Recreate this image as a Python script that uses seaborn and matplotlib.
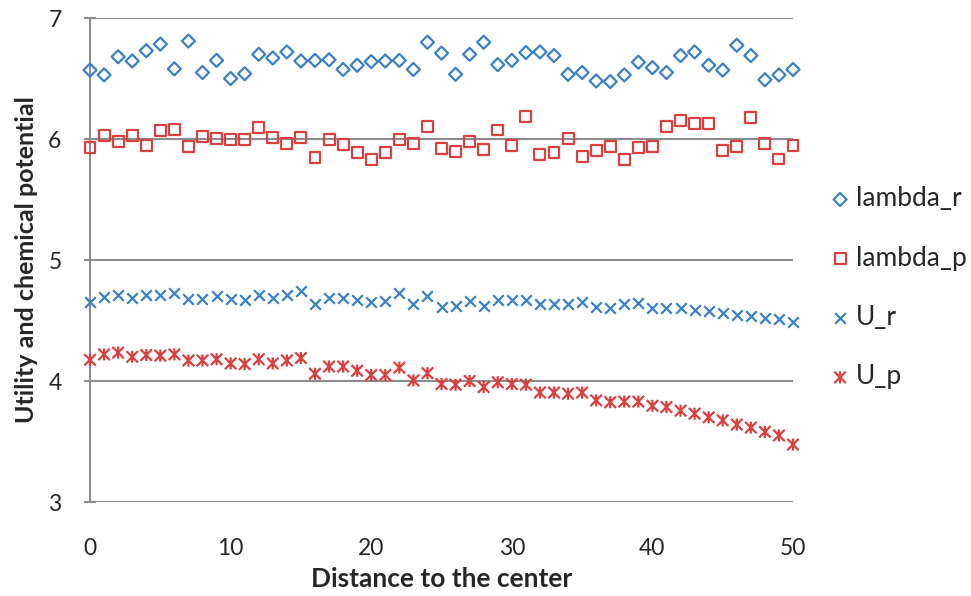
import matplotlib
matplotlib.use('Agg')
import matplotlib.pyplot as plt
import seaborn as sns
from matplotlib.path import Path

# distance to the center
distance = list(range(51))

lambda_r = [6.57, 6.53, 6.68, 6.645, 6.73, 6.785, 6.58, 6.81, 6.55, 6.65,
            6.50, 6.54, 6.70, 6.67, 6.72, 6.645, 6.65, 6.655, 6.575, 6.61,
            6.64, 6.645, 6.65, 6.575, 6.80, 6.71, 6.535, 6.70, 6.80, 6.615,
            6.65, 6.715, 6.72, 6.69, 6.535, 6.55, 6.48, 6.475, 6.53, 6.635,
            6.59, 6.55, 6.69, 6.72, 6.61, 6.57, 6.775, 6.69, 6.49, 6.53, 6.575]

lambda_p = [5.93, 6.03, 5.98, 6.03, 5.945, 6.07, 6.08, 5.935, 6.02, 6.005,
            5.995, 5.995, 6.095, 6.01, 5.96, 6.015, 5.845, 6.0, 5.955, 5.885,
            5.83, 5.89, 6.0, 5.965, 6.10, 5.925, 5.90, 5.98, 5.915, 6.075,
            5.945, 6.19, 5.87, 5.89, 6.005, 5.855, 5.905, 5.94, 5.83, 5.93,
            5.935, 6.10, 6.155, 6.125, 6.125, 5.905, 5.94, 6.18, 5.96, 5.835, 5.945]

u_r = [4.65, 4.695, 4.715, 4.685, 4.71, 4.71, 4.73, 4.675, 4.675, 4.705,
       4.675, 4.67, 4.715, 4.69, 4.715, 4.745, 4.635, 4.69, 4.69, 4.67,
       4.65, 4.66, 4.73, 4.64, 4.705, 4.61, 4.62, 4.66, 4.62, 4.67,
       4.67, 4.67, 4.635, 4.64, 4.635, 4.655, 4.61, 4.60, 4.635, 4.645,
       4.605, 4.605, 4.60, 4.59, 4.575, 4.56, 4.545, 4.54, 4.525, 4.51, 4.49]

u_p = [4.175, 4.22, 4.235, 4.20, 4.215, 4.21, 4.22, 4.17, 4.17, 4.18,
       4.145, 4.14, 4.18, 4.145, 4.17, 4.19, 4.06, 4.12, 4.12, 4.085,
       4.05, 4.05, 4.11, 4.005, 4.065, 3.975, 3.97, 4.0, 3.95, 3.99,
       3.975, 3.97, 3.905, 3.905, 3.895, 3.905, 3.84, 3.825, 3.83, 3.83,
       3.795, 3.785, 3.755, 3.73, 3.70, 3.675, 3.64, 3.615, 3.58, 3.55, 3.475]

blue = '#3b80c6'
red = '#d9403f'

sns.set_style('white')
plt.rcParams['font.family'] = ['Lato', 'DejaVu Sans']

# x with a vertical bar, like Excel's star marker
star = Path([(-1, -1), (1, 1), (-1, 1), (1, -1), (0, -1.05), (0, 1.05)],
            [Path.MOVETO, Path.LINETO] * 3)

fig = plt.figure(figsize=(9.71, 5.96), dpi=100)
ax = fig.add_axes([0.0927, 0.1577, 0.724, 0.812])

sns.scatterplot(x=distance, y=lambda_r, marker='D', s=44, facecolor='none',
                edgecolor=blue, linewidth=1.6, label='lambda_r', ax=ax, clip_on=False, zorder=3)
sns.scatterplot(x=distance, y=lambda_p, marker='s', s=62, facecolor='none',
                edgecolor=red, linewidth=1.6, label='lambda_p', ax=ax, clip_on=False, zorder=3)
sns.scatterplot(x=distance, y=u_r, marker='x', s=58, color=blue,
                linewidth=1.6, label='U_r', ax=ax, clip_on=False, zorder=3)
sns.scatterplot(x=distance, y=u_p, marker=star, s=75, facecolor='none',
                edgecolor=red, linewidth=1.6, label='U_p', ax=ax, clip_on=False, zorder=3)

ax.set_xlim(0, 50)
ax.set_ylim(3, 7)
ax.set_xticks(range(0, 51, 10))
ax.set_yticks(range(3, 8))

ax.grid(axis='y', color='#8c8c8c', linewidth=1.5)
ax.grid(axis='x', visible=False)
for side in ['top', 'right', 'bottom']:
    ax.spines[side].set_visible(False)
ax.spines['left'].set_color('#8c8c8c')
ax.spines['left'].set_linewidth(1.5)

ax.tick_params(axis='y', direction='inout', length=9, width=1.5, color='#8c8c8c',
               labelsize=16.5, pad=16, left=True)
ax.tick_params(axis='x', length=0, labelsize=16.5, pad=26)

ax.set_xlabel('Distance to the center', fontsize=19, fontweight='bold', labelpad=6)
ax.set_ylabel('Utility and chemical potential', fontsize=18, fontweight='bold', labelpad=7)

ax.legend(loc='center left', bbox_to_anchor=(0.857, 0.517), bbox_transform=fig.transFigure,
          frameon=False, fontsize=19, labelspacing=1.3, handlelength=0.6,
          handletextpad=0.3, borderaxespad=0, borderpad=0)

plt.savefig('out.png', dpi=100)
plt.close()
